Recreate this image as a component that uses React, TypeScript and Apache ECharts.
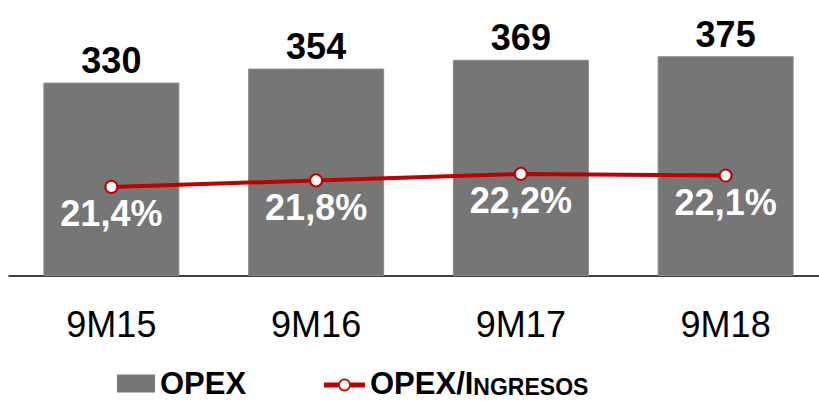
import React, { useEffect, useRef } from "react";
import * as echarts from "echarts";

const categories = ["9M15", "9M16", "9M17", "9M18"];
const opexValues = [330, 354, 369, 375];
const ratioValues = [21.4, 21.8, 22.2, 22.1];
const barName = "OPEX";
const lineName = "OPEX/Ingresos";

const lineLegendIcon =
  "path://M0 4.6H14.2V9.4H0Z M26.8 4.6H41V9.4H26.8Z " +
  "M14 7A6.5 6.5 0 1 1 27 7A6.5 6.5 0 1 1 14 7Z " +
  "M15.8 7A4.7 4.7 0 1 0 25.2 7A4.7 4.7 0 1 0 15.8 7Z";

export default function App() {
  const ref = useRef<HTMLDivElement>(null);
  useEffect(() => {
    if (!ref.current) return;
    const chart = echarts.init(ref.current, null, { renderer: "svg" });
    const font = "'Liberation Sans', Arial, sans-serif";
    chart.setOption({
      animation: false,
      grid: { left: 9, width: 819, top: 0, height: 276, containLabel: false, outerBoundsMode: "none" },
      legend: [
        {
          left: 117,
          top: 368,
          padding: 0,
          itemWidth: 38,
          itemHeight: 18,
          itemGap: 0,
          data: [{ name: barName, icon: "rect" }],
          selectedMode: false,
          itemStyle: { borderWidth: 0 },
          textStyle: { fontFamily: font, fontSize: 31, fontWeight: "bold", color: "#000", lineHeight: 28 },
        },
        {
          left: 324,
          top: 368,
          padding: 0,
          itemWidth: 41,
          itemHeight: 14,
          itemGap: 0,
          data: [{ name: lineName, icon: lineLegendIcon, itemStyle: { color: "#c00000", borderWidth: 0 } }],
          selectedMode: false,
          formatter: () => "{a|OPEX/I}{b|NGRESOS}",
          textStyle: {
            fontFamily: font,
            fontSize: 31,
            fontWeight: "bold",
            color: "#000",
            lineHeight: 28,
            rich: {
              a: { fontFamily: font, fontSize: 31, fontWeight: "bold", color: "#000", lineHeight: 28, verticalAlign: "bottom" },
              b: { fontFamily: font, fontSize: 23, fontWeight: "bold", color: "#000", lineHeight: 28, verticalAlign: "bottom", padding: [0, 0, 1, 0] },
            },
          },
        },
      ],
      xAxis: {
        type: "category",
        data: categories,
        axisLine: { show: true, lineStyle: { color: "#000", width: 1.5 } },
        axisTick: { show: false },
        axisLabel: { margin: 30, fontFamily: font, fontSize: 36, color: "#000", lineHeight: 36 },
      },
      yAxis: [
        { type: "value", min: 0, max: 471, show: false, splitLine: { show: false } },
        { type: "value", min: 15.92, max: 32.9, show: false, splitLine: { show: false } },
      ],
      series: [
        {
          name: barName,
          type: "bar",
          data: opexValues,
          barWidth: 136,
          itemStyle: { color: "#767676", borderColor: "#8a8a8a", borderWidth: 1 },
          label: {
            show: true,
            position: "top",
            distance: 4,
            fontFamily: font,
            fontSize: 36,
            fontWeight: "bold",
            color: "#000",
            lineHeight: 36,
          },
        },
        {
          name: lineName,
          type: "line",
          yAxisIndex: 1,
          data: ratioValues,
          symbol: "circle",
          symbolSize: 12,
          lineStyle: { color: "#c00000", width: 4 },
          itemStyle: { color: "#fff", borderColor: "#c00000", borderWidth: 2 },
          label: {
            show: true,
            position: "bottom",
            distance: 2,
            fontFamily: font,
            fontSize: 36,
            fontWeight: "bold",
            color: "#fff",
            lineHeight: 36,
            formatter: (p: any) => p.value.toFixed(1).replace(".", ",") + "%",
          },
          z: 3,
        },
      ],
    });
    return () => chart.dispose();
  }, []);
  return (
    <div
      ref={ref}
      style={{ position: "fixed", left: 0, top: 0, width: 819, height: 402, background: "#fff" }}
    />
  );
}
